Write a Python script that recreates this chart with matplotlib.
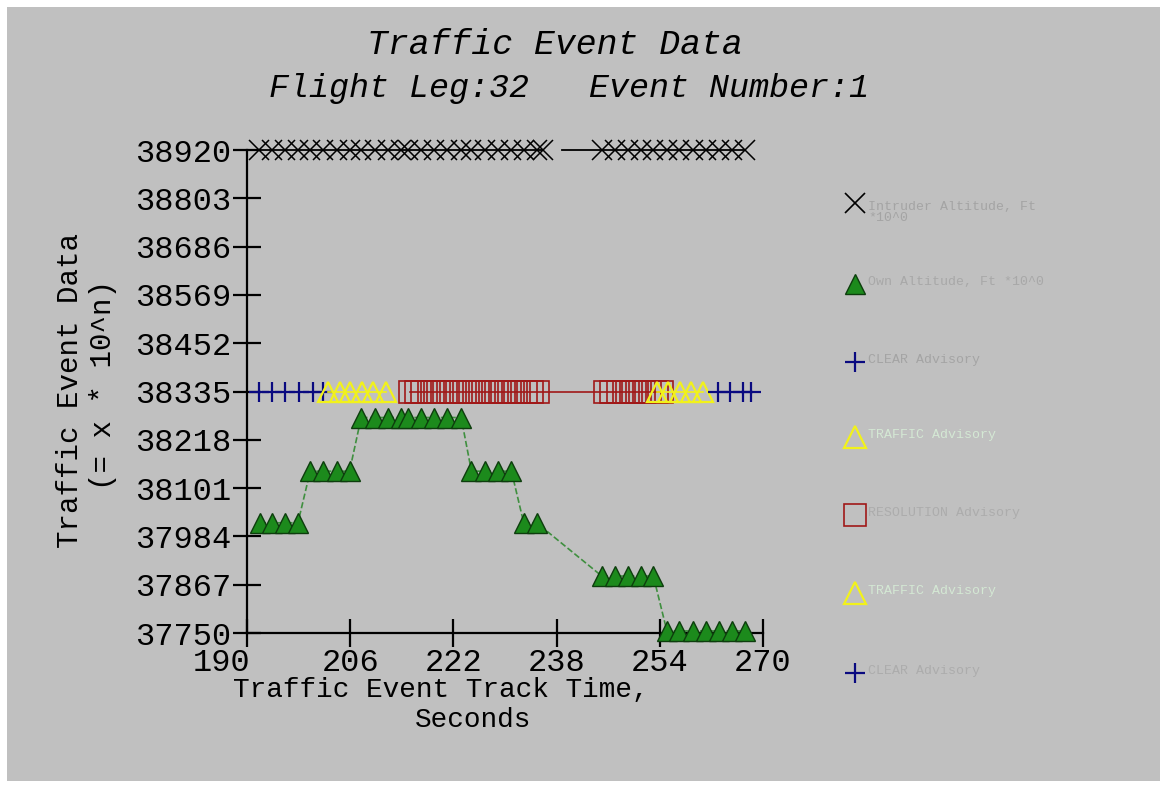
import matplotlib
matplotlib.use("Agg")
import matplotlib.pyplot as plt
import numpy as np
from matplotlib.patches import Rectangle
from matplotlib.transforms import ScaledTranslation

plt.rcParams['font.family'] = ['Liberation Mono', 'DejaVu Sans Mono']

# intruder altitude (X markers); NaN = data gap, 238.9 carries the line only
intr_t = [191.8, 193.8, 195.9, 197.9, 199.8, 201.8, 203.9, 205.9, 207.7, 209.8,
          211.9, 213.9, 214.9, 217.0, 219.0, 221.0, 223.2, 224.8, 226.9, 228.9,
          231.0, 232.9, 234.9, 235.9, np.nan, 238.9, 245.0, 247.1, 249.0, 251.1,
          253.0, 255.1, 257.0, 259.1, 261.1, 263.2, 265.2, 267.2]
intr_alt = [38920] * len(intr_t)

# own altitude (green triangles)
own_t = [192.0, 193.9, 195.9, 197.9, 199.8, 201.8, 203.9, 205.9, 207.7, 209.8,
         211.9, 213.9, 214.9, 217.0, 219.0, 221.0, 223.2, 224.8, 226.9, 228.9,
         231.0, 232.9, 234.9, 245.0, 247.1, 249.0, 251.1, 253.0, 255.1, 257.0,
         259.1, 261.1, 263.2, 265.2, 267.2]
own_alt = [38017, 38017, 38017, 38017, 38142, 38142, 38142, 38142, 38272, 38272,
           38272, 38272, 38272, 38272, 38272, 38272, 38272, 38142, 38142, 38142,
           38142, 38017, 38017, 37888, 37888, 37888, 37888, 37888, 37755, 37755,
           37755, 37755, 37755, 37755, 37755]

adv_level = 38335
clear1_t = [191.8, 193.9, 195.9, 198.1, 200.2, 201.8]
traffic1_t = [202.6, 204.4, 206.0, 207.8, 209.6, 211.6]
resol_t = [215.2, 216.2, 217.2, 218.2, 219.2, 220.2, 221.2, 222.2, 223.2, 224.2,
           225.2, 226.2, 227.2, 228.2, 229.2, 230.2, 231.2, 232.2, 233.2, 234.2,
           235.1, 245.5, 246.5, 247.5, 248.5, 249.5, 250.5, 251.5, 252.5, 253.5,
           254.4]
traffic2_t = [253.5, 255.3, 257.1, 258.9, 260.7]
clear2_t = [263.1, 264.9, 266.9, 268.2]

xticks = [190, 206, 222, 238, 254, 270]
yticks = [37750, 37867, 37984, 38101, 38218, 38335, 38452, 38569, 38686, 38803, 38920]

labels = ["Intruder Altitude, Ft\n*10^0", "Own Altitude, Ft *10^0", "CLEAR Advisory",
          "TRAFFIC Advisory", "RESOLUTION Advisory", "TRAFFIC Advisory", "CLEAR Advisory"]

W, H = 1166, 787
bg = '#c0c0c0'
fig = plt.figure(figsize=(W / 100, H / 100), dpi=100, facecolor='white')
fig.patches.append(Rectangle((7 / W, 1 - 781 / H), (1160 - 7) / W, (781 - 7) / H,
                             transform=fig.transFigure, facecolor=bg, edgecolor='none', zorder=-10))

ax = fig.add_axes([247 / W, 1 - 633 / H, (763 - 247) / W, (633 - 150) / H])
ax.set_facecolor('none')
ax.set_xlim(190, 270)
ax.set_ylim(37750, 38920)

green = '#1c8a1c'
navy = '#0a0a80'
yel = '#f2f21a'
red = '#a01818'

ax.plot(own_t, own_alt, linestyle='--', color='#3f8f3f', lw=1.2, zorder=2, clip_on=False)
ax.plot(own_t, own_alt, linestyle='none', marker='^', ms=15, mfc=green, mec='#0d3d0d',
        mew=1.0, zorder=3, clip_on=False)

mark_idx = [i for i, t in enumerate(intr_t) if t != 238.9 and not np.isnan(t)]
ax.plot(intr_t, intr_alt, color='black', lw=1.3, marker='x', ms=14, mew=1.1,
        markevery=mark_idx, zorder=3, clip_on=False)

ax.plot(clear1_t, [adv_level] * len(clear1_t), color=navy, lw=1.2, marker='+', ms=14, mew=1.6,
        zorder=3, clip_on=False)
ax.plot(traffic1_t, [adv_level] * len(traffic1_t), color=yel, lw=1.2, marker='^', ms=15,
        mfc='none', mec=yel, mew=1.6, zorder=4)
ax.plot(resol_t, [adv_level] * len(resol_t), color=red, lw=1.2, marker='s', ms=16,
        mfc='none', mec=red, mew=1.2, zorder=5)
ax.plot(traffic2_t, [adv_level] * len(traffic2_t), color=yel, lw=1.2, marker='^', ms=15,
        mfc='none', mec=yel, mew=1.6, zorder=6)
ax.plot(clear2_t, [adv_level] * len(clear2_t), color=navy, lw=1.2, marker='+', ms=14, mew=1.6,
        zorder=7, clip_on=False)

for s in ['top', 'right']:
    ax.spines[s].set_visible(False)
for s in ['left', 'bottom']:
    ax.spines[s].set_linewidth(1.6)
    ax.spines[s].set_zorder(2.5)
ax.set_xticks(xticks)
ax.set_yticks(yticks)
ax.tick_params(direction='inout', length=20, width=1.6, labelsize=23, pad=1)
ax.set_yticklabels([str(v) for v in yticks])
first = ax.xaxis.get_major_ticks()[0].label1
first.set_transform(first.get_transform() + ScaledTranslation(-0.25, 0, fig.dpi_scale_trans))

fig.text(555 / W, 1 - 45 / H, "Traffic Event Data", ha='center', va='center',
         fontsize=25, style='italic')
fig.text(569 / W, 1 - 88 / H, "Flight Leg:32   Event Number:1", ha='center', va='center',
         fontsize=24, style='italic')
fig.text(441 / W, 1 - 690 / H, "Traffic Event Track Time,", ha='center', va='center', fontsize=20)
fig.text(473 / W, 1 - 720 / H, "Seconds", ha='center', va='center', fontsize=20)
fig.text(70 / W, 1 - 390 / H, "Traffic Event Data", ha='center', va='center', fontsize=21,
         rotation=90)
fig.text(103 / W, 1 - 385 / H, "(= x * 10^n)", ha='center', va='center', fontsize=21,
         rotation=90)

# legend column on the right
leg_y = [203, 284, 362, 437, 515, 593, 673]
leg_style = [
    dict(marker='x', ms=15, mec='black', mew=1.2),
    dict(marker='^', ms=15, mfc=green, mec='#0d3d0d'),
    dict(marker='+', ms=15, mec=navy, mew=1.6),
    dict(marker='^', ms=16, mfc='none', mec=yel, mew=1.6),
    dict(marker='s', ms=16, mfc='none', mec=red, mew=1.2),
    dict(marker='^', ms=16, mfc='none', mec=yel, mew=1.6),
    dict(marker='+', ms=15, mec=navy, mew=1.6),
]
leg_col = ['#a4a4a4', '#a8a8a8', '#a4a4a4', '#d4e8d4', '#acacac', '#d4e8d4', '#acacac']
for y, st, lab, c in zip(leg_y, leg_style, labels, leg_col):
    fig.lines.append(plt.Line2D([855 / W], [1 - y / H], transform=fig.transFigure,
                                linestyle='none', **st))
    fig.text(868 / W, 1 - (y - 2) / H, lab, ha='left', va='top' if '\n' in lab else 'center',
             fontsize=9.5, color=c, linespacing=0.9)

fig.savefig('out.png', dpi=100, facecolor=fig.get_facecolor())
